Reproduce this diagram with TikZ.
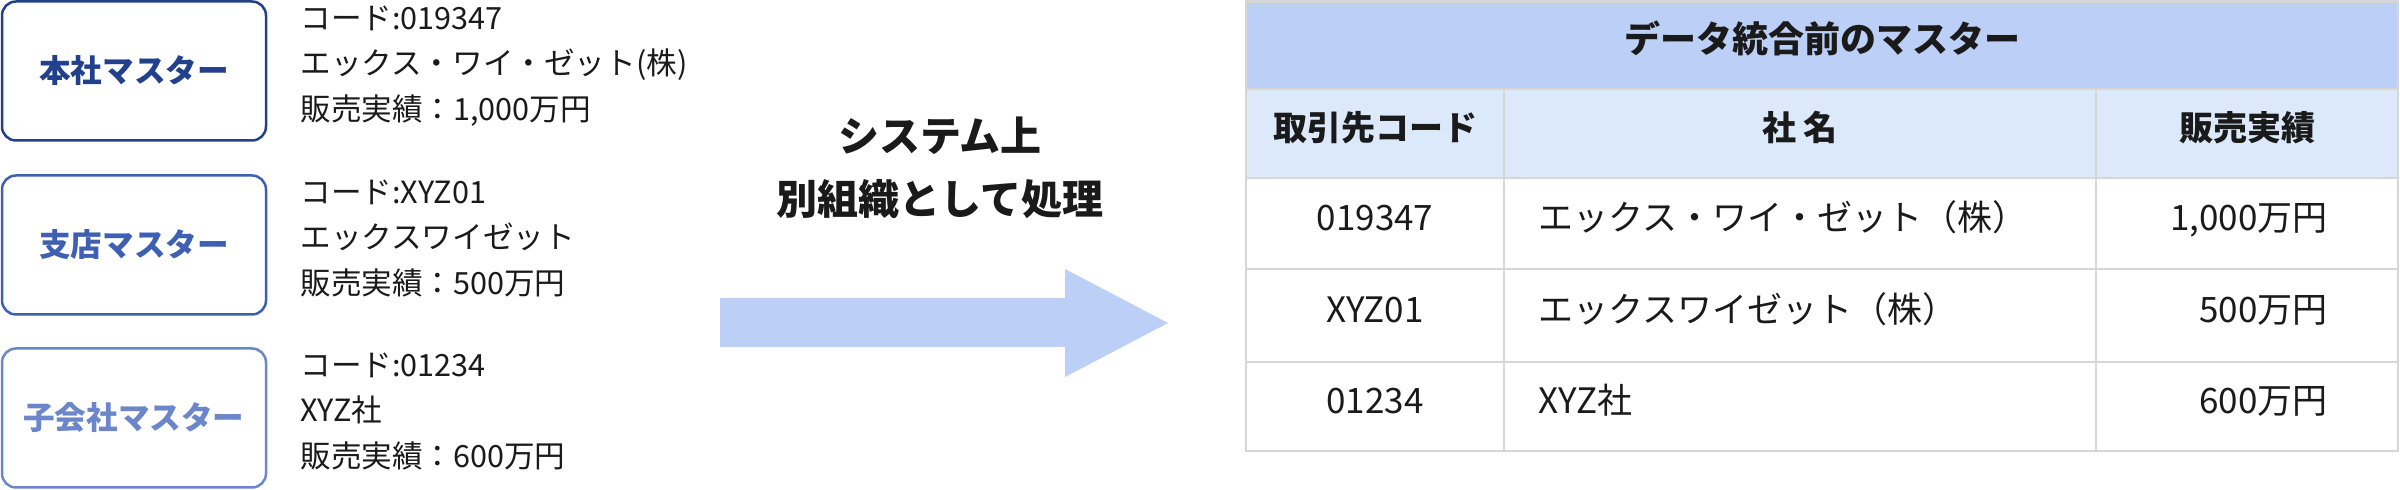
\documentclass[tikz,border=0pt]{standalone}
\usepackage{fontspec}
\setmainfont{Noto Sans CJK JP}
\definecolor{cone}{HTML}{22408C}
\definecolor{ctwo}{HTML}{3F5FB2}
\definecolor{cthree}{HTML}{6B86C9}
\definecolor{arrowblue}{HTML}{BCCFF7}
\definecolor{hdrblue}{HTML}{DBE9FB}
\definecolor{gridgray}{HTML}{D6D6D6}
\definecolor{txt}{HTML}{1A1A1A}
\begin{document}
\begin{tikzpicture}[x=0.5pt,y=-0.5pt,
  masterbox/.style={draw, line width=1.25pt, rounded corners=7pt, fill=white,
    minimum width=132pt, minimum height=69.5pt, inner sep=0pt,
    font=\fontsize{15.8pt}{18pt}\selectfont\bfseries},
  infoline/.style={anchor=west, inner sep=0pt, text=txt, text height=0.86em, text depth=0.14em,
    font=\fontsize{15.3pt}{18pt}\selectfont},
  midtext/.style={inner sep=0pt, text=txt, text height=0.86em, text depth=0.14em,
    font=\fontsize{20.5pt}{24pt}\selectfont\bfseries},
  titletext/.style={inner sep=0pt, text=txt, text height=0.86em, text depth=0.14em,
    font=\fontsize{18pt}{22pt}\selectfont\bfseries},
  headtext/.style={inner sep=0pt, text=txt, text height=0.86em, text depth=0.14em,
    font=\fontsize{17pt}{20pt}\selectfont\bfseries},
  celltext/.style={inner sep=0pt, text=txt, text height=0.86em, text depth=0.14em,
    font=\fontsize{17.5pt}{20pt}\selectfont},
  gridline/.style={draw=gridgray, line width=1.2pt},
  vgridline/.style={draw=gridgray, line width=1pt}
]
\useasboundingbox (0,0) rectangle (2400,490);

% master boxes
\node[masterbox, draw=cone, text=cone] (m1) at (134,71) {本社マスター};
\node[masterbox, draw=ctwo, text=ctwo] (m2) at (134,245) {支店マスター};
\node[masterbox, draw=cthree, text=cthree] (m3) at (134,418) {子会社マスター};

% info lines
\node[infoline] (a1) at (300,22) {コード:019347};
\node[infoline] (a2) at (300,67.5) {エックス・ワイ・ゼット(株)};
\node[infoline] (a3) at (300,113) {販売実績：1,000万円};
\node[infoline] (b1) at (300,196) {コード:XYZ01};
\node[infoline] (b2) at (300,241.5) {エックスワイゼット};
\node[infoline] (b3) at (300,287) {販売実績：500万円};
\node[infoline] (c1) at (300,369) {コード:01234};
\node[infoline] (c2) at (300,414.5) {XYZ社};
\node[infoline] (c3) at (300,460) {販売実績：600万円};

% middle text
\node[midtext] (s1) at (940,144) {システム上};
\node[midtext] (s2) at (940,207) {別組織として処理};

% big arrow
\fill[arrowblue] (720,298) -- (1065,298) -- (1065,269) -- (1168,323) -- (1065,377) -- (1065,347) -- (720,347) -- cycle;

% table
\fill[arrowblue] (1246,1.5) rectangle (2398,89);
\fill[hdrblue] (1246,89) rectangle (2398,178);
\foreach \yy in {89,178,269,362} { \draw[gridline] (1246,\yy) -- (2398,\yy); }
\draw[vgridline] (1504,89) -- (1504,451);
\draw[vgridline] (2096,89) -- (2096,451);
\draw[gridline] (1246,1.5) rectangle (2398,451);

\node[titletext] (t0) at (1822,45) {データ統合前のマスター};
\node[headtext] (h1) at (1375,133.5) {取引先コード};
\node[headtext] (h2) at (1800,133.5) {社 名};
\node[headtext] (h3) at (2247,133.5) {販売実績};

\node[celltext] (r1a) at (1375,223.5) {019347};
\node[celltext, anchor=west] (r1b) at (1538,223.5) {エックス・ワイ・ゼット（株）};
\node[celltext, anchor=east] (r1c) at (2328,223.5) {1,000万円};
\node[celltext] (r2a) at (1375,315.5) {XYZ01};
\node[celltext, anchor=west] (r2b) at (1538,315.5) {エックスワイゼット（株）};
\node[celltext, anchor=east] (r2c) at (2328,315.5) {500万円};
\node[celltext] (r3a) at (1375,406.5) {01234};
\node[celltext, anchor=west] (r3b) at (1538,406.5) {XYZ社};
\node[celltext, anchor=east] (r3c) at (2328,406.5) {600万円};
\end{tikzpicture}
\end{document}
